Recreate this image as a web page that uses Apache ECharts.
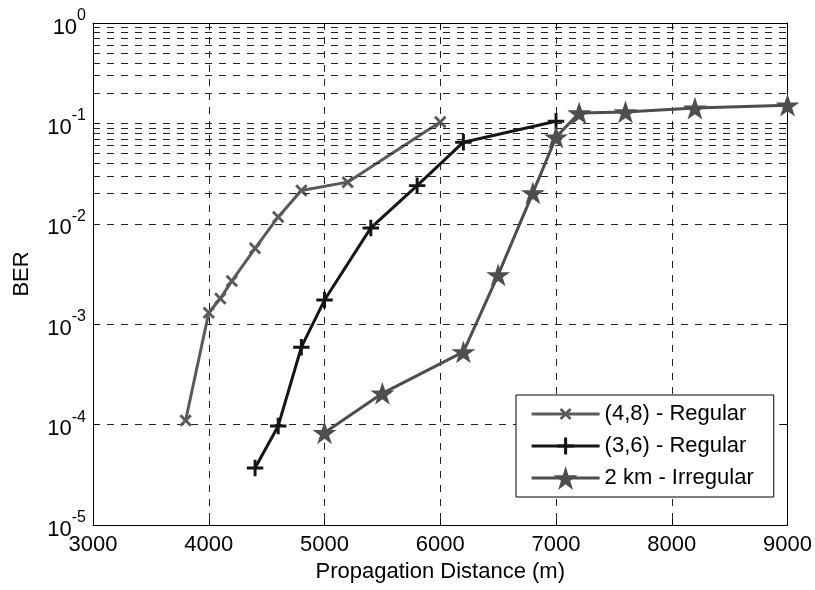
<!DOCTYPE html>
<html>
<head>
<meta charset="utf-8">
<script src="https://cdn.jsdelivr.net/npm/echarts@6/dist/echarts.min.js"></script>
<style>
html,body{margin:0;padding:0;background:#fff;}
#chart{width:815px;height:590px;}
</style>
</head>
<body>
<div id="chart"></div>
<script>
// ---- data ----
const seriesNames = ['(4,8) - Regular', '(3,6) - Regular', '2 km - Irregular'];

const x48 = [3800, 4000, 4100, 4200, 4400, 4600, 4800, 5200, 6000];
const y48 = [1.1e-4, 1.3e-3, 1.8e-3, 2.7e-3, 5.7e-3, 1.17e-2, 2.15e-2, 2.6e-2, 1.03e-1];

const x36 = [4400, 4600, 4800, 5000, 5400, 5800, 6200, 7000];
const y36 = [3.7e-5, 9.7e-5, 5.9e-4, 1.74e-3, 9.1e-3, 2.4e-2, 6.5e-2, 1.05e-1];

const x2k = [5000, 5500, 6200, 6500, 6800, 7000, 7200, 7600, 8200, 9000];
const y2k = [8.3e-5, 2.05e-4, 5.3e-4, 3.1e-3, 2.03e-2, 7.3e-2, 1.27e-1, 1.3e-1, 1.42e-1, 1.52e-1];

const xTicks = [3000, 4000, 5000, 6000, 7000, 8000, 9000];
const yDecades = [1e-5, 1e-4, 1e-3, 1e-2, 1e-1, 1];
const minorMultipliers = [2, 3, 4, 5, 6, 7, 8, 9];

// ---- build ----
const FONT = '"Liberation Sans", Arial, Helvetica, sans-serif';
const FS = 22;
const pairs = (xs, ys) => xs.map((x, i) => [x, ys[i]]);

const minorVals = [];
for (let d = 0; d < yDecades.length - 1; d++) {
  minorMultipliers.forEach(m => minorVals.push(yDecades[d] * m));
}

// symbols padded with bare move-to points so the glyph fills only part of its box
const X_SYM = 'path://M-5,-5M15,15M0,1.6L1.6,0L5,3.4L8.4,0L10,1.6L6.6,5L10,8.4L8.4,10L5,6.6L1.6,10L0,8.4L3.4,5Z';
const PLUS_SYM = 'path://M-2,-2M12,12M4.1,0H5.9V4.1H10V5.9H5.9V10H4.1V5.9H0V4.1H4.1Z';
const STAR_SYM = 'path://M100,0L122.45,69.1L195.1,69.1L136.3,111.8L158.8,180.9L100,138.2L41.2,180.9L63.7,111.8L4.9,69.1L77.55,69.1Z';

const gridDash = {type: [7, 7], color: '#222', width: 1};

const chart = echarts.init(document.getElementById('chart'), null, {renderer: 'canvas'});

const option = {
  animation: false,
  backgroundColor: '#fff',
  grid: {left: 93, right: 25, top: 23, bottom: 65, containLabel: false},
  legend: {
    orient: 'vertical',
    left: 516, top: 395,
    itemWidth: 68, itemHeight: 30, itemGap: 8,
    padding: [7, 20, 7, 14],
    borderColor: '#000', borderWidth: 1, borderRadius: 0,
    backgroundColor: '#fff',
    lineStyle: {width: 3.2},
    textStyle: {fontSize: FS, fontFamily: FONT, color: '#000'},
    data: seriesNames
  },
  xAxis: [{
    type: 'value', min: 3000, max: 9000, interval: 1000, position: 'bottom',
    name: 'Propagation Distance (m)', nameLocation: 'middle', nameGap: 36,
    nameTextStyle: {fontSize: FS, fontFamily: FONT, color: '#000'},
    axisLine: {show: true, lineStyle: {color: '#000', width: 1}},
    axisTick: {show: true, inside: true, length: 6, lineStyle: {color: '#000'}},
    axisLabel: {fontSize: FS, fontFamily: FONT, color: '#000', margin: 9, formatter: v => String(v)},
    splitLine: {show: true, lineStyle: gridDash}
  }, {
    type: 'value', min: 3000, max: 9000, interval: 1000, position: 'top',
    axisLine: {show: true, onZero: false, lineStyle: {color: '#000', width: 1}},
    axisTick: {show: true, inside: true, length: 6, lineStyle: {color: '#000'}},
    axisLabel: {show: false}, splitLine: {show: false}
  }],
  yAxis: [{
    type: 'log', logBase: 10, min: 1e-5, max: 1, position: 'left',
    name: 'BER', nameLocation: 'middle', nameGap: 60, nameRotate: 90,
    nameTextStyle: {fontSize: FS, fontFamily: FONT, color: '#000'},
    axisLine: {show: true, lineStyle: {color: '#000', width: 1}},
    axisTick: {show: true, inside: true, length: 6, lineStyle: {color: '#000'}},
    axisLabel: {
      margin: 7, fontFamily: FONT, color: '#000',
      formatter: v => '{b|10}{s|' + Math.round(Math.log10(v)) + '}',
      rich: {
        b: {fontSize: FS, fontFamily: FONT, color: '#000', lineHeight: 31, verticalAlign: 'bottom'},
        s: {fontSize: 16, fontFamily: FONT, color: '#000', verticalAlign: 'top', lineHeight: 18}
      }
    },
    splitLine: {show: true, lineStyle: gridDash}
  }, {
    type: 'log', logBase: 10, min: 1e-5, max: 1, position: 'right',
    axisLine: {show: true, lineStyle: {color: '#000', width: 1}},
    axisTick: {show: true, inside: true, length: 6, lineStyle: {color: '#000'}},
    axisLabel: {show: false}, splitLine: {show: false}
  }],
  series: [
    {
      name: '__minor', type: 'line', data: [], xAxisIndex: 0, yAxisIndex: 0,
      markLine: {
        silent: true, symbol: ['none', 'none'], label: {show: false},
        lineStyle: {type: [7, 7], color: '#222', width: 1},
        data: minorVals.map(v => ({yAxis: v}))
      }
    },
    {
      name: seriesNames[0], type: 'line', data: pairs(x48, y48),
      symbol: X_SYM, symbolSize: 25,
      lineStyle: {color: '#5a5a5a', width: 3},
      itemStyle: {color: '#5a5a5a'}, z: 3
    },
    {
      name: seriesNames[1], type: 'line', data: pairs(x36, y36),
      symbol: PLUS_SYM, symbolSize: 23,
      lineStyle: {color: '#151515', width: 3},
      itemStyle: {color: '#151515'}, z: 4
    },
    {
      name: seriesNames[2], type: 'line', data: pairs(x2k, y2k),
      symbol: STAR_SYM, symbolSize: 24, symbolKeepAspect: true,
      lineStyle: {color: '#4e4e4e', width: 3},
      itemStyle: {color: '#4e4e4e'}, z: 5
    }
  ]
};
chart.setOption(option);
</script>
</body>
</html>
